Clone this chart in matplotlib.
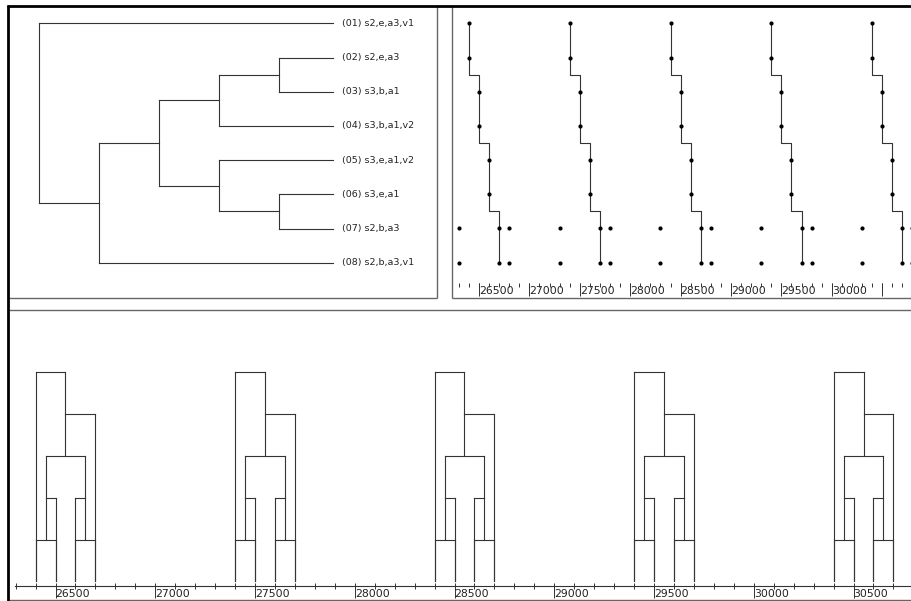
import matplotlib
matplotlib.use("Agg")
import matplotlib.pyplot as plt
from matplotlib.lines import Line2D
import numpy as np

W, H = 911, 601

# ---- data -------------------------------------------------------------
leaf_labels = ["(01) s2,e,a3,v1", "(02) s2,e,a3", "(03) s3,b,a1", "(04) s3,b,a1,v2",
               "(05) s3,e,a1,v2", "(06) s3,e,a1", "(07) s2,b,a3", "(08) s2,b,a3,v1"]

# agglomeration steps: (child, child, level); leaves are 0..7, new nodes get 8, 9, ...
merges = [(1, 2, 1), (5, 6, 1), (8, 3, 2), (4, 9, 2), (10, 11, 3), (12, 7, 4), (0, 13, 5)]

# position of each leaf within the first period
row_pos = [26400, 26400, 26500, 26500, 26600, 26600, 26700, 26700]
# additional hits in the same period
row_extra = [[], [], [], [], [], [], [26300, 26800], [26300, 26800]]
period = 1000
n_periods = 5

major_ticks = [26500, 27000, 27500, 28000, 28500, 29000, 29500, 30000, 30500]
minor_ticks = list(range(26300, 30800, 100))
top_labels = ["26500", "27000", "27500", "28000", "28500", "29000", "29500", "30000", ""]
bottom_labels = ["26500", "27000", "27500", "28000", "28500", "29000", "29500", "30000", "30500"]

LINE = "#333333"
FRAME = "#666666"
LEAF_END = 0.1

fig = plt.figure(figsize=(W / 100, H / 100), dpi=100)
fig.patch.set_facecolor("white")


def px_axes(left, top, right, bottom):
    ax = fig.add_axes([left / W, 1 - bottom / H, (right - left) / W, (bottom - top) / H])
    ax.patch.set_alpha(0)
    for s in ax.spines.values():
        s.set_visible(False)
    return ax


def px_line(x0, y0, x1, y1, color=FRAME, lw=1.0):
    fig.add_artist(Line2D([x0 / W, x1 / W], [1 - y0 / H, 1 - y1 / H],
                          transform=fig.transFigure, color=color, lw=lw,
                          solid_capstyle="butt"))


# tree bookkeeping
n_leaves = len(leaf_labels)
node_y = {i: float(i) for i in range(n_leaves)}
node_level = {i: 0 for i in range(n_leaves)}
for k, (a, b, lvl) in enumerate(merges):
    nid = n_leaves + k
    node_y[nid] = (node_y[a] + node_y[b]) / 2
    node_level[nid] = lvl

# ---- top-left: dendrogram with labels --------------------------------
ax1 = px_axes(9, 6, 437, 298)
ax1.set_xlim(5.5, -1.633)
ax1.set_ylim(8.032, -0.506)
ax1.set_xticks([])
ax1.set_yticks([])
for k, (a, b, lvl) in enumerate(merges):
    ax1.plot([lvl, lvl], [node_y[a], node_y[b]], color=LINE, lw=0.8)
    for c in (a, b):
        start = LEAF_END if c < n_leaves else node_level[c]
        ax1.plot([start, lvl], [node_y[c], node_y[c]], color=LINE, lw=0.8)
for i, lab in enumerate(leaf_labels):
    ax1.annotate(lab, (0, i), xytext=(2.2, 0), textcoords="offset points",
                 ha="left", va="center", fontsize=6.8, color="#222222",
                 family="DejaVu Sans")

# ---- top-right: hit positions per row --------------------------------
ax2 = px_axes(452, 6, 911, 283)
ax2.set_xlim(26232, 30786)
ax2.set_ylim(7.594, -0.506)
ax2.set_yticks([])
rows = np.arange(n_leaves)
for p in range(n_periods):
    off = p * period
    xs = [v + off for v in row_pos]
    # staircase linking consecutive rows
    path_x, path_y = [xs[0]], [rows[0]]
    for i in range(1, n_leaves):
        if xs[i] != xs[i - 1]:
            mid = (rows[i] + rows[i - 1]) / 2
            path_x += [xs[i - 1], xs[i]]
            path_y += [mid, mid]
        path_x.append(xs[i])
        path_y.append(rows[i])
    ax2.plot(path_x, path_y, color=LINE, lw=0.8)
    for i in range(n_leaves):
        hx = [xs[i]] + [v + off for v in row_extra[i]]
        ax2.plot(hx, [rows[i]] * len(hx), ls="none", marker="o", ms=2.0,
                 color="black")

ax2.xaxis.remove_overlapping_locs = False
ax2.set_xticks(minor_ticks, minor=True)
ax2.set_xticks(major_ticks, labels=top_labels, ha="left",
               fontsize=7.8, family="DejaVu Sans", color="#222222")
ax2.tick_params(axis="x", which="minor", direction="out", length=3, width=0.7,
                color=LINE)
ax2.tick_params(axis="x", which="major", direction="out", length=9.5, width=0.7,
                color=LINE, pad=-7)

# ---- bottom: dendrogram laid out on the position axis ----------------
ax3 = px_axes(15, 310, 911, 586)
ax3.set_xlim(26297, 30788)
ax3.set_ylim(-0.108, 6.495)
ax3.set_yticks([])
ax3.spines["bottom"].set_visible(True)
ax3.spines["bottom"].set_color(LINE)
ax3.spines["bottom"].set_linewidth(0.8)

for p in range(n_periods):
    off = p * period
    node_x = {i: row_pos[i] + off for i in range(n_leaves)}
    for k, (a, b, lvl) in enumerate(merges):
        nid = n_leaves + k
        inner = [c for c in (a, b) if c >= n_leaves]
        src = inner if inner else [a, b]
        node_x[nid] = sum(node_x[c] for c in src) / len(src)
        ax3.plot([node_x[a], node_x[b]], [lvl, lvl], color=LINE, lw=0.8)
        for c in (a, b):
            ax3.plot([node_x[c], node_x[c]], [node_level[c], lvl], color=LINE, lw=0.8)

ax3.xaxis.remove_overlapping_locs = False
ax3.set_xticks(minor_ticks, minor=True)
ax3.set_xticks(major_ticks, labels=bottom_labels, ha="left",
               fontsize=7.8, family="DejaVu Sans", color="#222222")
ax3.tick_params(axis="x", which="minor", direction="inout", length=4.5, width=0.7,
                color=LINE)
ax3.tick_params(axis="x", which="major", direction="out", length=8.5, width=0.7,
                color=LINE, pad=-6.5)

# ---- panel frames -----------------------------------------------------
px_line(437, 6, 437, 298)
px_line(9, 298, 437, 298)
px_line(452, 6, 452, 298)
px_line(452, 298, 911, 298)
px_line(9, 310, 911, 310)
px_line(9, 600, 911, 600)
px_line(7, 6, 911, 6, color="black", lw=2.0)
px_line(8, 5, 8, 601, color="black", lw=2.0)

fig.savefig("out.png", dpi=100)
